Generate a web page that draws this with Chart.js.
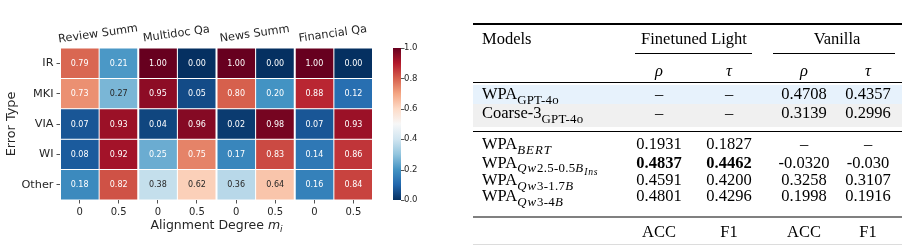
<!DOCTYPE html>
<html>
<head>
<meta charset="utf-8">
<script src="https://cdn.jsdelivr.net/npm/chart.js@4.4.1/dist/chart.umd.min.js"></script>
<style>
  body { margin: 0; background: #fff; width: 912px; height: 245px; overflow: hidden; position: relative; }
  #hm { position: absolute; left: 0; top: 0; }
  #tbl { position: absolute; left: 0; top: 0; width: 912px; height: 245px;
         font-family: "Liberation Serif", "Times New Roman", serif; font-size: 16.5px; color: #000; }
  .cell { position: absolute; height: 20px; line-height: 20px; white-space: nowrap; }
  .c { transform: translateX(-50%); }
  .bx { position: absolute; }
  sub { font-size: 0.78em; vertical-align: -0.35em; line-height: 0; letter-spacing: 0.02em; }
  sub sub { font-size: 0.75em; vertical-align: -0.3em; }
  .mi { font-style: italic; letter-spacing: 0.08em; }
</style>
</head>
<body>
<canvas id="hm" width="455" height="245"></canvas>
<div id="tbl"></div>
<script>
// heatmap data
const errorTypes = ['IR', 'MKI', 'VIA', 'WI', 'Other'];
const datasetNames = ['Review Summ', 'Multidoc Qa', 'News Summ', 'Financial Qa'];
const degreeLabels = ['0', '0.5', '0', '0.5', '0', '0.5', '0', '0.5'];
const irVals    = [0.79, 0.21, 1.00, 0.00, 1.00, 0.00, 1.00, 0.00];
const mkiVals   = [0.73, 0.27, 0.95, 0.05, 0.80, 0.20, 0.88, 0.12];
const viaVals   = [0.07, 0.93, 0.04, 0.96, 0.02, 0.98, 0.07, 0.93];
const wiVals    = [0.08, 0.92, 0.25, 0.75, 0.17, 0.83, 0.14, 0.86];
const otherVals = [0.18, 0.82, 0.38, 0.62, 0.36, 0.64, 0.16, 0.84];
const cellValues = [irVals, mkiVals, viaVals, wiVals, otherVals];

// table data
const groupHeads = ['Finetuned Light', 'Vanilla'];
const metricHeads = ['ρ', 'τ', 'ρ', 'τ'];
const footHeads = ['ACC', 'F1', 'ACC', 'F1'];
const modelNames = [
    'WPA<sub>GPT-4o</sub>',
    'Coarse-3<sub>GPT-4o</sub>',
    'WPA<sub class="mi">BERT</sub>',
    'WPA<sub><span class="mi">Qw</span>2.5-0.5<span class="mi">B</span><sub class="mi">Ins</sub></sub>',
    'WPA<sub><span class="mi">Qw</span>3-1.7<span class="mi">B</span></sub>',
    'WPA<sub><span class="mi">Qw</span>3-4<span class="mi">B</span></sub>'
];
const fineRho = ['–', '–', '0.1931', '0.4837', '0.4591', '0.4801'];
const fineTau = ['–', '–', '0.1827', '0.4462', '0.4200', '0.4296'];
const vanRho  = ['0.4708', '0.3139', '–', '-0.0320', '0.3258', '0.1998'];
const vanTau  = ['0.4357', '0.2996', '–', '-0.030', '0.3107', '0.1916'];
const boldFineRow = 3;

// RdBu_r
const rdbu = ['#67001f', '#b2182b', '#d6604d', '#f4a582', '#fddbc7', '#f7f7f7',
              '#d1e5f0', '#92c5de', '#4393c3', '#2166ac', '#053061'];
const rdbuR = rdbu.map(h => [1, 3, 5].map(i => parseInt(h.substr(i, 2), 16))).reverse();

function cmap(v) {
    const t = Math.min(1, Math.max(0, v)) * 10;
    const i = Math.min(9, Math.floor(t));
    const f = t - i;
    const a = rdbuR[i], b = rdbuR[i + 1];
    return a.map((c, k) => Math.round(c + (b[k] - c) * f));
}
function rgbStr(c) { return 'rgb(' + c.join(',') + ')'; }

// same rule as seaborn for annotation colour
function textColor(v) {
    const lin = cmap(v).map(c => {
        c = c / 255;
        return c <= 0.03928 ? c / 12.92 : Math.pow((c + 0.055) / 1.055, 2.4);
    });
    const lum = 0.2126 * lin[0] + 0.7152 * lin[1] + 0.0722 * lin[2];
    return lum > 0.408 ? '#262626' : '#ffffff';
}

const FONT = '"DejaVu Sans", sans-serif';
const INK = '#262626';

const annotPlugin = {
    id: 'annot',
    afterDatasetsDraw(chart) {
        const ctx = chart.ctx;
        ctx.save();
        ctx.font = '8px ' + FONT;
        ctx.textAlign = 'center';
        ctx.textBaseline = 'middle';
        cellValues.forEach((row, r) => {
            chart.getDatasetMeta(r).data.forEach((bar, c) => {
                const p = bar.getProps(['x', 'y', 'base'], true);
                ctx.fillStyle = textColor(row[c]);
                ctx.fillText(row[c].toFixed(2), p.x, (p.y + p.base) / 2 + 0.5);
            });
        });
        ctx.restore();
    }
};

const decorPlugin = {
    id: 'decor',
    afterDraw(chart) {
        const ctx = chart.ctx;
        const xs = chart.scales.x, cb = chart.scales.cb, area = chart.chartArea;
        ctx.save();

        // group names over the column pairs
        ctx.fillStyle = INK;
        ctx.font = '11.3px ' + FONT;
        ctx.textAlign = 'center';
        ctx.textBaseline = 'middle';
        datasetNames.forEach((name, g) => {
            const cx = (xs.getPixelForValue(2 * g) + xs.getPixelForValue(2 * g + 1)) / 2;
            ctx.save();
            ctx.translate(cx - 1, area.top - 14);
            ctx.rotate(-8 * Math.PI / 180);
            ctx.fillText(name, 0, 0);
            ctx.restore();
        });

        // x title with m_i
        const base = 'Alignment Degree ';
        ctx.textAlign = 'left';
        ctx.textBaseline = 'alphabetic';
        ctx.font = '12.5px ' + FONT;
        const w1 = ctx.measureText(base).width;
        ctx.font = 'italic 12.5px ' + FONT;
        const w2 = ctx.measureText('m').width;
        ctx.font = 'italic 9px ' + FONT;
        const w3 = ctx.measureText('i').width;
        let tx = (area.left + area.right) / 2 - (w1 + w2 + w3) / 2;
        const ty = 229;
        ctx.font = '12.5px ' + FONT;
        ctx.fillText(base, tx, ty);
        ctx.font = 'italic 12.5px ' + FONT;
        ctx.fillText('m', tx + w1, ty);
        ctx.font = 'italic 9px ' + FONT;
        ctx.fillText('i', tx + w1 + w2, ty + 3);

        // colour bar
        const bx = area.right + 20, bw = 8;
        const top = cb.getPixelForValue(1), bot = cb.getPixelForValue(0);
        const grad = ctx.createLinearGradient(0, bot, 0, top);
        for (let k = 0; k <= 20; k++) grad.addColorStop(k / 20, rgbStr(cmap(k / 20)));
        ctx.fillStyle = grad;
        ctx.fillRect(bx, top, bw, bot - top);
        ctx.strokeStyle = INK;
        ctx.lineWidth = 0.8;
        cb.ticks.forEach(t => {
            const y = Math.round(cb.getPixelForValue(t.value)) + 0.5;
            ctx.beginPath();
            ctx.moveTo(bx + bw, y);
            ctx.lineTo(bx + bw + 3.5, y);
            ctx.stroke();
        });
        ctx.restore();
    }
};

new Chart(document.getElementById('hm'), {
    type: 'bar',
    data: {
        labels: degreeLabels,
        datasets: errorTypes.map((name, r) => ({
            label: name,
            data: cellValues[r].map(() => [r, r + 1]),
            backgroundColor: cellValues[r].map(v => rgbStr(cmap(v))),
            borderColor: '#ffffff',
            borderWidth: ctx => ({
                top: 0.5, bottom: 0.5,
                left: ctx.dataIndex % 2 === 0 ? 1 : 0.5,
                right: ctx.dataIndex % 2 === 1 ? 1 : 0.5
            }),
            borderSkipped: false,
            inflateAmount: 0,
            grouped: false,
            barPercentage: 1,
            categoryPercentage: 1
        }))
    },
    options: {
        responsive: false,
        animation: false,
        events: [],
        layout: { padding: { top: 48, left: 0, right: 0, bottom: 0 } },
        plugins: { legend: { display: false }, tooltip: { enabled: false } },
        scales: {
            x: {
                type: 'category',
                offset: true,
                border: { display: false },
                grid: { offset: false, drawOnChartArea: false, tickLength: 3.5, tickColor: INK, lineWidth: 0.8 },
                ticks: { color: INK, font: { family: FONT, size: 10 }, padding: 2.5, maxRotation: 0, autoSkip: false },
                afterFit: s => { s.height = 45; }
            },
            y: {
                type: 'linear',
                min: 0, max: 5,
                reverse: true,
                border: { display: false },
                grid: { drawOnChartArea: false, tickLength: 3.5, tickColor: INK, lineWidth: 0.8 },
                afterBuildTicks: s => { s.ticks = errorTypes.map((_, i) => ({ value: i + 0.5 })); },
                ticks: {
                    color: INK, font: { family: FONT, size: 11.3 }, padding: 3,
                    callback: (v, i) => errorTypes[i]
                },
                title: { display: true, text: 'Error Type', color: INK, font: { family: FONT, size: 12.8 }, padding: { top: 4, bottom: 4 } },
                afterFit: s => { s.width = 60; }
            },
            cb: {
                type: 'linear',
                position: 'right',
                min: 0, max: 1,
                border: { display: false },
                grid: { display: false, drawTicks: false },
                ticks: { stepSize: 0.2, color: INK, font: { family: FONT, size: 8.5 }, padding: 31,
                         callback: v => v.toFixed(1) },
                afterFit: s => { s.width = 82; }
            }
        }
    },
    plugins: [annotPlugin, decorPlugin]
});

// table
const tbl = document.getElementById('tbl');
function put(html, x, y, centered, style) {
    const d = document.createElement('div');
    d.className = 'cell' + (centered ? ' c' : '');
    d.style.left = x + 'px';
    d.style.top = (y - 10) + 'px';
    if (style) d.style.cssText += style;
    d.innerHTML = html;
    tbl.appendChild(d);
}
function box(x1, x2, y, h, color) {
    const d = document.createElement('div');
    d.className = 'bx';
    d.style.left = x1 + 'px';
    d.style.width = (x2 - x1) + 'px';
    d.style.top = y + 'px';
    d.style.height = h + 'px';
    d.style.background = color;
    tbl.appendChild(d);
}

const tL = 473, tR = 902, nameX = 482;
const colX = [659, 729, 804, 868];
const rowY = [93.5, 112.5, 144, 162.5, 179.5, 196];

box(tL, tR, 85, 18.5, '#e7f2fc');
box(tL, tR, 103.5, 23, '#f0f0f0');
box(tL, tR, 22.5, 2, '#000');
box(635, 752, 52.5, 1, '#000');
box(773, 895, 52.5, 1, '#000');
box(tL, tR, 81.5, 1.2, '#000');
box(tL, tR, 131, 1.2, '#000');
box(tL, tR, 216, 2, '#808080');
box(tL, tR, 243.5, 1, '#dcdcdc');

put('Models', nameX, 39, false);
put(groupHeads[0], (colX[0] + colX[1]) / 2, 39, true);
put(groupHeads[1], (colX[2] + colX[3]) / 2 + 1, 39, true);
metricHeads.forEach((m, i) => put('<i>' + m + '</i>', colX[i], 70.5, true));

modelNames.forEach((name, r) => {
    put(name, nameX, rowY[r], false);
    [fineRho, fineTau, vanRho, vanTau].forEach((col, i) => {
        const bold = r === boldFineRow && i < 2;
        put(col[r], colX[i], rowY[r], true, bold ? 'font-weight:bold;' : '');
    });
});
footHeads.forEach((m, i) => put(m, colX[i], 232, true));
</script>
</body>
</html>
